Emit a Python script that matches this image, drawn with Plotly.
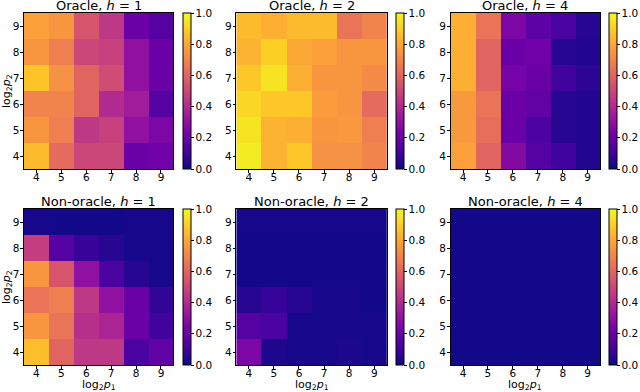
import plotly.graph_objects as go

x_vals = [4, 5, 6, 7, 8, 9]
y_vals = [4, 5, 6, 7, 8, 9]

# rows listed from y=4 (bottom) to y=9 (top)
oracle_h1 = [
    [0.85, 0.62, 0.50, 0.50, 0.20, 0.22],
    [0.75, 0.68, 0.45, 0.48, 0.30, 0.25],
    [0.70, 0.70, 0.60, 0.40, 0.35, 0.15],
    [0.87, 0.74, 0.60, 0.52, 0.30, 0.20],
    [0.75, 0.68, 0.50, 0.48, 0.30, 0.20],
    [0.78, 0.75, 0.55, 0.45, 0.20, 0.15],
]
oracle_h2 = [
    [0.97, 0.83, 0.88, 0.74, 0.74, 0.70],
    [0.95, 0.83, 0.82, 0.75, 0.76, 0.68],
    [0.92, 0.88, 0.88, 0.77, 0.75, 0.62],
    [0.88, 0.95, 0.82, 0.75, 0.75, 0.72],
    [0.83, 0.90, 0.80, 0.78, 0.75, 0.75],
    [0.85, 0.82, 0.85, 0.85, 0.65, 0.70],
]
oracle_h4 = [
    [0.78, 0.60, 0.27, 0.15, 0.10, 0.04],
    [0.76, 0.63, 0.20, 0.13, 0.05, 0.04],
    [0.76, 0.65, 0.20, 0.18, 0.05, 0.04],
    [0.82, 0.60, 0.23, 0.20, 0.10, 0.06],
    [0.82, 0.60, 0.20, 0.22, 0.05, 0.04],
    [0.82, 0.65, 0.25, 0.17, 0.12, 0.05],
]
nonoracle_h1 = [
    [0.86, 0.60, 0.45, 0.45, 0.12, 0.18],
    [0.75, 0.65, 0.42, 0.38, 0.20, 0.10],
    [0.65, 0.68, 0.45, 0.30, 0.20, 0.07],
    [0.75, 0.55, 0.30, 0.12, 0.05, 0.02],
    [0.47, 0.15, 0.08, 0.05, 0.02, 0.02],
    [0.02, 0.01, 0.01, 0.01, 0.02, 0.02],
]
nonoracle_h2 = [
    [0.25, 0.03, 0.02, 0.02, 0.03, 0.02],
    [0.15, 0.12, 0.02, 0.02, 0.02, 0.02],
    [0.05, 0.08, 0.05, 0.02, 0.02, 0.01],
    [0.01, 0.01, 0.01, 0.01, 0.01, 0.01],
    [0.01, 0.01, 0.01, 0.01, 0.01, 0.01],
    [0.02, 0.02, 0.02, 0.02, 0.02, 0.02],
]
nonoracle_h4 = [
    [0.01, 0.01, 0.01, 0.01, 0.01, 0.01],
    [0.01, 0.01, 0.01, 0.01, 0.01, 0.01],
    [0.01, 0.01, 0.01, 0.01, 0.01, 0.01],
    [0.01, 0.01, 0.01, 0.01, 0.01, 0.01],
    [0.01, 0.01, 0.01, 0.01, 0.01, 0.01],
    [0.01, 0.01, 0.01, 0.01, 0.01, 0.01],
]

panels = [
    ("Oracle, <i>h</i> = 1", oracle_h1),
    ("Oracle, <i>h</i> = 2", oracle_h2),
    ("Oracle, <i>h</i> = 4", oracle_h4),
    ("Non-oracle, <i>h</i> = 1", nonoracle_h1),
    ("Non-oracle, <i>h</i> = 2", nonoracle_h2),
    ("Non-oracle, <i>h</i> = 4", nonoracle_h4),
]
cbar_ticks = [0.0, 0.2, 0.4, 0.6, 0.8, 1.0]
cbar_labels = ["0.0", "0.2", "0.4", "0.6", "0.8", "1.0"]
x_title = "log<sub>2</sub><i>p</i><sub>1</sub>"
y_title = "log<sub>2</sub><i>p</i><sub>2</sub>"

W, H = 640, 392
col_x = [(24, 174, 184), (237, 388, 397), (452, 602, 611)]
row_y = [(13, 169), (209, 365)]
title_y = [6, 202]

FONT = "DejaVu Sans"
fig = go.Figure()
for i, (title, z) in enumerate(panels):
    r, c = divmod(i, 3)
    x0, x1, cbx = col_x[c]
    yt, yb = row_y[r]
    n = i + 1
    xa = "x" if n == 1 else f"x{n}"
    ya = "y" if n == 1 else f"y{n}"
    fig.add_trace(go.Heatmap(
        x=x_vals, y=y_vals, z=z, zmin=0, zmax=1,
        colorscale="Plasma", xaxis=xa, yaxis=ya,
        colorbar=dict(
            x=cbx / W, xanchor="left", y=1 - yb / H, yanchor="bottom",
            len=(yb - yt) / H, lenmode="fraction", thickness=8,
            outlinecolor="black", outlinewidth=1,
            tickvals=cbar_ticks, ticktext=cbar_labels,
            ticks="outside", ticklen=2.5, tickcolor="black",
            tickfont=dict(family=FONT, size=10.5, color="black"),
            xpad=0, ypad=0,
        ),
    ))
    axis_common = dict(
        showline=True, linecolor="black", linewidth=1, mirror=True,
        ticks="outside", ticklen=2.5, tickcolor="black",
        tickfont=dict(family=FONT, size=10.5, color="black"),
        showgrid=False, zeroline=False, automargin=False,
        tickvals=x_vals, ticktext=[str(v) for v in x_vals],
        range=[3.5, 9.5],
    )
    fig.layout[f"xaxis{'' if n == 1 else n}"] = dict(
        domain=[x0 / W, x1 / W], anchor=ya, ticklabelstandoff=-4, **axis_common)
    fig.layout[f"yaxis{'' if n == 1 else n}"] = dict(
        domain=[1 - yb / H, 1 - yt / H], anchor=xa, ticklabelstandoff=-1, **axis_common)
    fig.add_annotation(
        text=title, x=(x0 + x1) / 2 / W, y=1 - title_y[r] / H, xref="paper", yref="paper",
        xanchor="center", yanchor="middle", showarrow=False,
        font=dict(family=FONT, size=13, color="black"),
    )
    if r == 1:
        fig.add_annotation(
            text=x_title, x=(x0 + x1) / 2 / W, y=0, xref="paper", yref="paper",
            xanchor="center", yanchor="bottom", showarrow=False, yshift=-2,
            font=dict(family=FONT, size=11, color="black"),
        )
    if c == 0:
        fig.add_annotation(
            text=y_title, x=0, y=1 - (yt + yb) / 2 / H, xref="paper", yref="paper",
            xanchor="left", yanchor="middle", showarrow=False, textangle=-90,
            xshift=-2, font=dict(family=FONT, size=11, color="black"),
        )

fig.update_layout(
    width=W, height=H, margin=dict(l=0, r=0, t=0, b=0),
    paper_bgcolor="white", plot_bgcolor="white", showlegend=False,
)
fig.write_html(
    "out.html",
    config={"displayModeBar": False},
    post_script="document.body.style.margin='0px';document.body.style.overflow='hidden';",
)
